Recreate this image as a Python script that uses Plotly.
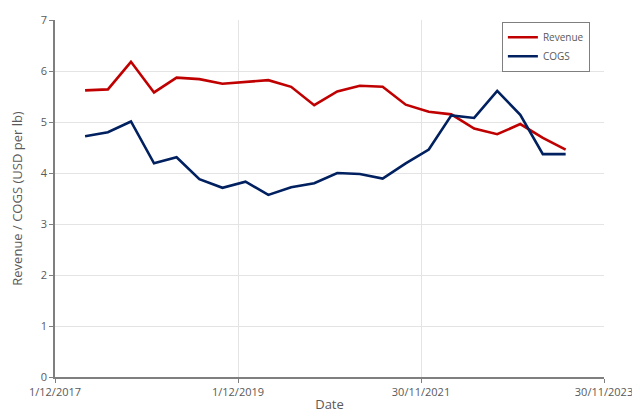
import plotly.graph_objects as go

dates = ["2018-03-31", "2018-06-30", "2018-09-30", "2018-12-31",
         "2019-03-31", "2019-06-30", "2019-09-30", "2019-12-31",
         "2020-03-31", "2020-06-30", "2020-09-30", "2020-12-31",
         "2021-03-31", "2021-06-30", "2021-09-30", "2021-12-31",
         "2022-03-31", "2022-06-30", "2022-09-30", "2022-12-31",
         "2023-03-31", "2023-06-30"]
revenue = [5.62, 5.64, 6.18, 5.58, 5.87, 5.84, 5.75, 5.79, 5.82, 5.69, 5.33, 5.60,
           5.71, 5.69, 5.34, 5.20, 5.15, 4.87, 4.76, 4.96, 4.69, 4.46]
cogs = [4.72, 4.80, 5.01, 4.19, 4.31, 3.88, 3.71, 3.83, 3.57, 3.72, 3.80, 4.00,
        3.98, 3.89, 4.19, 4.46, 5.13, 5.08, 5.61, 5.14, 4.37, 4.37]
tick_vals = ["2017-12-01", "2019-12-01", "2021-11-30", "2023-11-30"]
tick_text = ["1/12/2017", "1/12/2019", "30/11/2021", "30/11/2023"]

font_family = "Open Sans, Noto Sans, sans-serif"
gray = "#595959"

fig = go.Figure()
fig.add_trace(go.Scatter(x=dates, y=revenue, mode="lines", name="Revenue",
                         line=dict(color="#C00000", width=2.6)))
fig.add_trace(go.Scatter(x=dates, y=cogs, mode="lines", name="COGS",
                         line=dict(color="#002060", width=2.6)))

fig.update_layout(
    width=632, height=410,
    margin=dict(l=47, r=36, t=12, b=41, autoexpand=False),
    paper_bgcolor="white", plot_bgcolor="white",
    font=dict(family=font_family, size=11, color=gray),
    showlegend=True,
    legend=dict(x=0.814, y=0.995, xanchor="left", yanchor="top",
                bordercolor="#7f7f7f", borderwidth=1, bgcolor="white",
                itemwidth=30, font=dict(size=10, color=gray),
                tracegroupgap=0),
)
fig.update_xaxes(
    type="date", range=["2017-12-01", "2023-11-30"],
    tickvals=tick_vals, ticktext=tick_text,
    showgrid=True, gridcolor="#e4e4e4", gridwidth=1,
    showline=True, linecolor="#7f7f7f", linewidth=1.5,
    ticks="outside", ticklen=4, tickcolor="#7f7f7f",
    title=dict(text="Date", standoff=2, font=dict(size=13, color=gray)),
    tickfont=dict(size=11, color=gray), zeroline=False, automargin=False,
)
fig.update_yaxes(
    range=[0, 7], dtick=1,
    showgrid=True, gridcolor="#e4e4e4", gridwidth=1,
    showline=True, linecolor="#7f7f7f", linewidth=1.5,
    ticks="outside", ticklen=4, tickcolor="#7f7f7f",
    title=dict(text="Revenue / COGS (USD per lb)", standoff=17, font=dict(size=13, color=gray)),
    tickfont=dict(size=11, color=gray), zeroline=False, automargin=False,
)

fig.write_html("out.html")
